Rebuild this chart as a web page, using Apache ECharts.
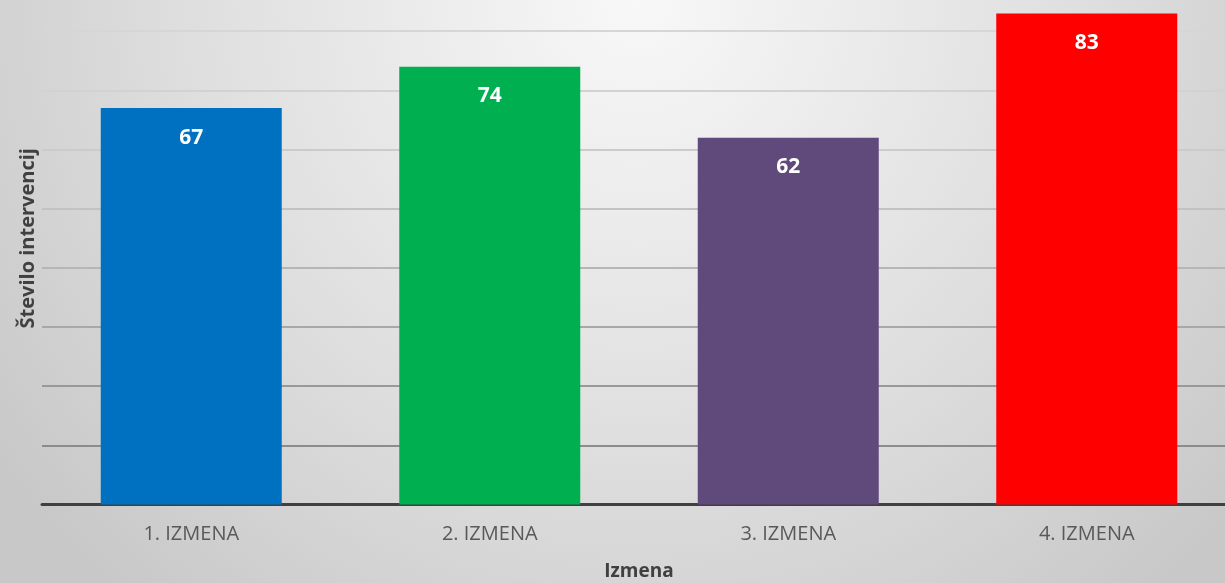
<!DOCTYPE html>
<html>
<head>
<meta charset="utf-8">
<title>Število intervencij po izmenah</title>
<script src="https://cdn.jsdelivr.net/npm/echarts@6/dist/echarts.min.js"></script>
<style>
	html, body { margin: 0; padding: 0; }
	#main { width: 1225px; height: 583px; }
</style>
</head>
<body>
<div id="main"></div>
<script type="text/javascript">
	// podatki
	var izmene = ['1. IZMENA', '2. IZMENA', '3. IZMENA', '4. IZMENA'];
	var intervencije = [67, 74, 62, 83];
	var barve = ['#0070C0', '#00B050', '#604A7B', '#FF0000'];

	var myChart = echarts.init(document.getElementById('main'));

	var podatki = [];
	for (var i = 0; i < intervencije.length; i++) {
		podatki.push({ value: intervencije[i], itemStyle: { color: barve[i] } });
	}

	var option = {
		backgroundColor: {
			type: 'radial', x: 0.52, y: 0, r: 1.35,
			colorStops: [
				{ offset: 0, color: '#f8f8f8' },
				{ offset: 0.6, color: '#dddddd' },
				{ offset: 1, color: '#c8c8c8' }
			]
		},
		textStyle: { fontFamily: 'Open Sans' },
		// os 0 pri y=504.5; zgornji del in desni rob sta odrezana
		grid: { left: 42, right: -11, top: -28, bottom: 78.5, outerBoundsMode: 'none' },
		xAxis: {
			type: 'category',
			data: izmene,
			name: 'Izmena',
			nameLocation: 'middle',
			nameGap: 58,
			nameTextStyle: { fontSize: 19, fontWeight: 'bold', color: '#404040' },
			axisLine: { lineStyle: { color: '#404040', width: 3 } },
			axisTick: { show: false },
			axisLabel: { fontSize: 20, color: '#595959', margin: 20 }
		},
		yAxis: {
			type: 'value',
			min: 0, max: 90, interval: 10,
			name: 'Število intervencij',
			nameLocation: 'middle',
			nameGap: 4,
			nameTextStyle: { fontSize: 20, fontWeight: 'bold', color: '#404040' },
			axisLine: { show: false },
			axisTick: { show: false },
			axisLabel: { show: false },
			splitLine: {
				lineStyle: {
					width: 2,
					color: ['#888888', '#8c8c8c', '#999999', '#a8a8a8', '#b6b6b6',
						'#c2c2c2', '#cbcbcb', '#d2d2d2', '#d6d6d6', '#d9d9d9']
				}
			}
		},
		series: [{
			name: 'Število intervencij',
			type: 'bar',
			barWidth: 181,
			data: podatki,
			label: {
				show: true,
				position: 'insideTop',
				distance: 19,
				color: '#ffffff',
				fontSize: 21,
				fontWeight: 'bold'
			}
		}]
	};

	myChart.setOption(option);
</script>
</body>
</html>
